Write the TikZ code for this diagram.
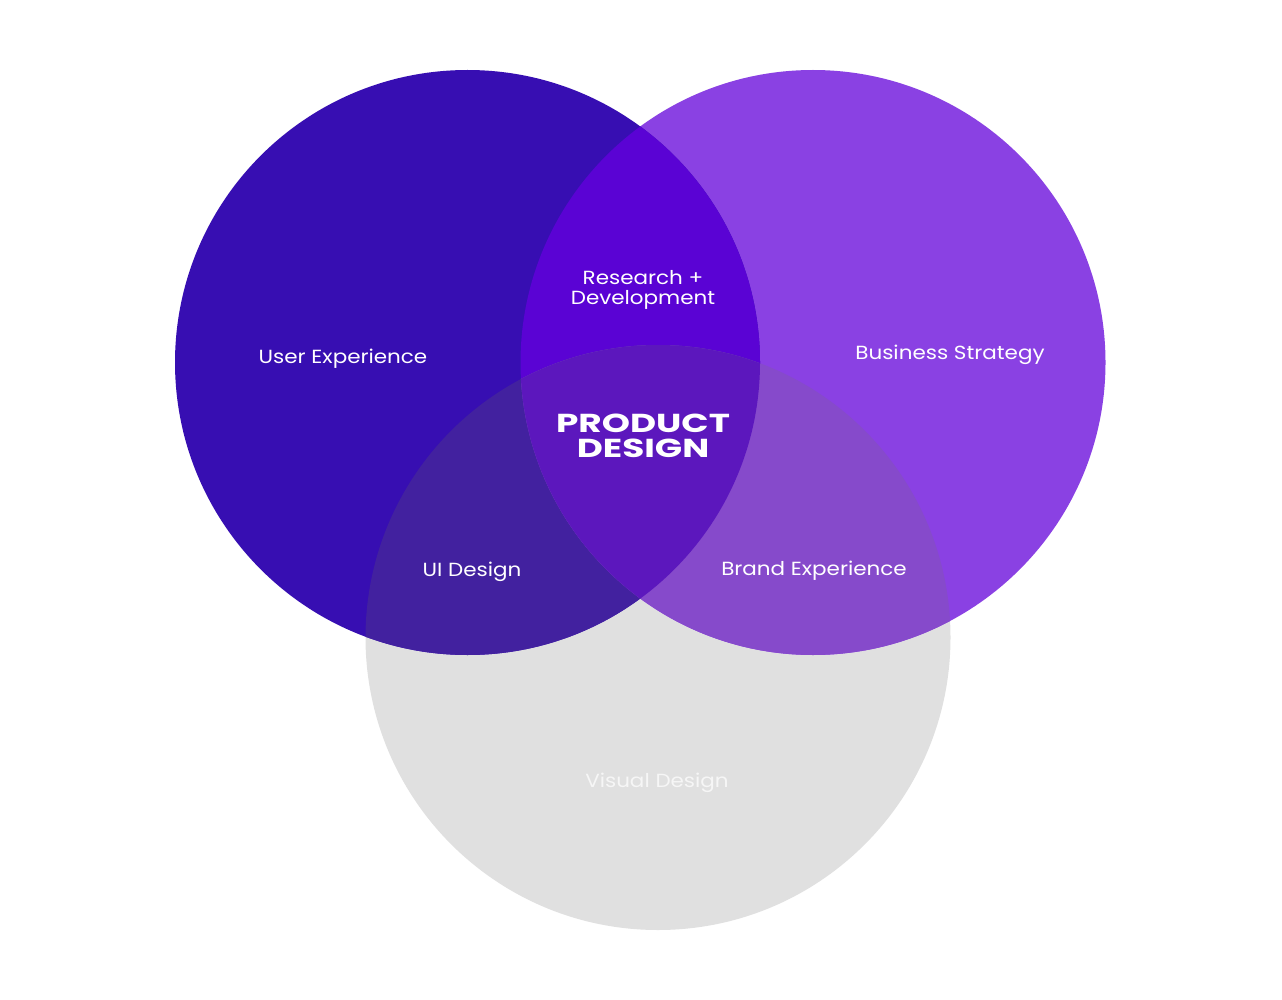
\documentclass[tikz,border=0pt]{standalone}
\usepackage{fontspec}
\setmainfont{Poppins}[FakeStretch=1.13]
\newfontfamily\widefont{Poppins}[FakeStretch=1.38]
\definecolor{cL}{HTML}{370EB2}
\definecolor{cR}{HTML}{8A41E3}
\definecolor{cG}{HTML}{E0E0E0}
\definecolor{cLR}{HTML}{5A03D4}
\definecolor{cLG}{HTML}{42219F}
\definecolor{cRG}{HTML}{864ACB}
\definecolor{cLRG}{HTML}{5C17BD}
\definecolor{cVis}{HTML}{F6F6F6}
\begin{document}
\begin{tikzpicture}[x=1pt,y=-1pt,
  lbl/.style={text=white,font=\fontsize{19}{20.5}\selectfont,align=center},
  big/.style={text=white,font=\widefont\bfseries\fontsize{26}{25}\selectfont,align=center}]
\useasboundingbox (0,0) rectangle (1282,1000);
\fill[white] (0,0) rectangle (1282,1000);
\def\rad{292.5}
\coordinate (L) at (467.5,362.5);
\coordinate (R) at (813,362.5);
\coordinate (G) at (658,637.5);
\fill[cG] (G) circle (\rad);
\fill[cR] (R) circle (\rad);
\fill[cL] (L) circle (\rad);
\begin{scope}\clip (L) circle (\rad); \fill[cLR] (R) circle (\rad); \fill[cLG] (G) circle (\rad);\end{scope}
\begin{scope}\clip (R) circle (\rad); \fill[cRG] (G) circle (\rad);\end{scope}
\begin{scope}\clip (L) circle (\rad); \clip (R) circle (\rad); \fill[cLRG] (G) circle (\rad);\end{scope}
\node[lbl] (ux) at (343,359) {User Experience};
\node[lbl] (bs) at (950,355) {Business Strategy};
\node[lbl] (rd) at (643,290) {Research +\\Development};
\node[big] (pd) at (643,435.5) {PRODUCT\\DESIGN};
\node[lbl] (ui) at (472,572) {UI Design};
\node[lbl] (be) at (814,571) {Brand Experience};
\node[lbl,text=cVis] (vd) at (657,783) {Visual Design};
\end{tikzpicture}
\end{document}
